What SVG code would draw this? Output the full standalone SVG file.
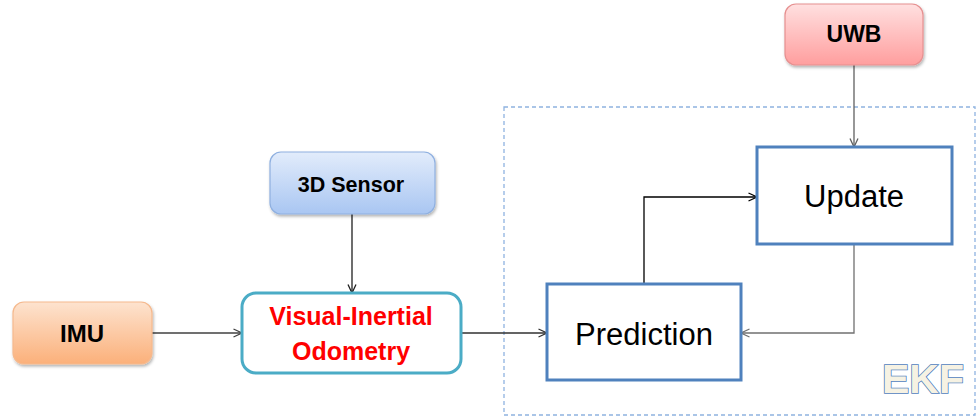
<svg xmlns="http://www.w3.org/2000/svg" width="976" height="420" viewBox="0 0 976 420">
  <style>
    .lbl { font-family: "Liberation Sans", Arial, sans-serif; font-weight: bold; text-anchor: middle; fill: #000; }
    .blk { fill: #fff; stroke: #4f81bd; stroke-width: 3; }
    .big { font-family: "Liberation Sans", Arial, sans-serif; font-size: 31px; text-anchor: middle; fill: #000; }
    .conn { fill: none; stroke-width: 1.3; }
  </style>
  <defs>
    <linearGradient id="gOrange" x1="0" y1="0" x2="0" y2="1">
      <stop offset="0" stop-color="#fde3cf"/>
      <stop offset="1" stop-color="#fbb07a"/>
    </linearGradient>
    <linearGradient id="gBlue" x1="0" y1="0" x2="0" y2="1">
      <stop offset="0" stop-color="#e2ecfb"/>
      <stop offset="1" stop-color="#a9c6f2"/>
    </linearGradient>
    <linearGradient id="gRed" x1="0" y1="0" x2="0" y2="1">
      <stop offset="0" stop-color="#ffe0e0"/>
      <stop offset="1" stop-color="#ff9e9e"/>
    </linearGradient>
    <filter id="shadow" x="-10%" y="-10%" width="125%" height="135%">
      <feDropShadow dx="1" dy="2" stdDeviation="1.6" flood-color="#000" flood-opacity="0.3"/>
    </filter>
    <marker id="arrow" viewBox="0 0 10 10" refX="9.5" refY="5" markerWidth="10" markerHeight="10" markerUnits="userSpaceOnUse" orient="auto">
      <path d="M1,1 L9.5,5 L1,9" fill="none" stroke="context-stroke" stroke-width="1.3"/>
    </marker>
  </defs>

  <rect width="976" height="420" fill="#fff"/>

  <!-- EKF region -->
  <g id="ekf">
    <rect x="504" y="107" width="471" height="308" fill="none" stroke="#8fb3e0" stroke-width="1.3" stroke-dasharray="4,3"/>
    <text x="923" y="393" font-family="Liberation Sans, Arial, sans-serif" font-size="41" font-weight="bold" text-anchor="middle" fill="#f6f2e3" stroke="#4f81bd" stroke-width="1.6" paint-order="stroke">EKF</text>
  </g>

  <!-- connectors -->
  <g id="connectors">
    <path class="conn" d="M152,333 H242" stroke="#404040" marker-end="url(#arrow)"/>
    <path class="conn" d="M352,214 V293" stroke="#202020" marker-end="url(#arrow)"/>
    <path class="conn" d="M461,333 H547" stroke="#303030" marker-end="url(#arrow)"/>
    <path class="conn" d="M644,284 V197 H757" stroke="#000" marker-end="url(#arrow)"/>
    <path class="conn" d="M854,65 V147" stroke="#606060" stroke-width="1.6" marker-end="url(#arrow)"/>
    <path class="conn" d="M854,244 V333 H741" stroke="#707070" stroke-width="1.6" marker-end="url(#arrow)"/>
  </g>

  <g id="imu">
    <rect x="13" y="302" width="139" height="62" rx="11" fill="url(#gOrange)" stroke="#f5b98e" stroke-width="1.2" filter="url(#shadow)"/>
    <text class="lbl" x="82" y="342" font-size="24">IMU</text>
  </g>

  <g id="sensor3d">
    <rect x="270" y="152" width="165" height="62" rx="11" fill="url(#gBlue)" stroke="#8fb0e0" stroke-width="1.2" filter="url(#shadow)"/>
    <text class="lbl" x="351" y="192" font-size="21.5">3D Sensor</text>
  </g>

  <g id="uwb">
    <rect x="785" y="4" width="138" height="61" rx="11" fill="url(#gRed)" stroke="#e69090" stroke-width="1.2" filter="url(#shadow)"/>
    <text class="lbl" x="854" y="42" font-size="23">UWB</text>
  </g>

  <g id="vio">
    <rect x="242" y="293" width="219" height="80" rx="14" fill="#fff" stroke="#4bacc6" stroke-width="3"/>
    <text class="lbl" x="351" y="325" font-size="25" fill="#ff0000" style="fill:#ff0000">Visual-Inertial</text>
    <text class="lbl" x="351" y="360" font-size="25" style="fill:#ff0000">Odometry</text>
  </g>

  <g id="prediction">
    <rect class="blk" x="547" y="284" width="194" height="96"/>
    <text class="big" x="644" y="345">Prediction</text>
  </g>

  <g id="update">
    <rect class="blk" x="757" y="147" width="195" height="97"/>
    <text class="big" x="854" y="207">Update</text>
  </g>
</svg>
